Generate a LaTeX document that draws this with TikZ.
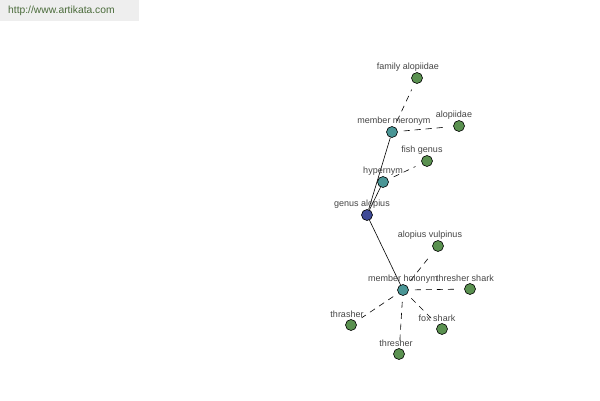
\documentclass[tikz,border=0pt]{standalone}
\usepackage{fontspec}
\setmainfont{Liberation Sans}
\begin{document}
\begin{tikzpicture}[x=1pt,y=-1pt,
  dot/.style={circle,draw=black,line width=0.6pt,minimum size=11pt,inner sep=0pt},
  leaf/.style={dot,fill=leafgreen},
  hub/.style={dot,fill=hubteal},
  root/.style={dot,fill=rootblue},
  lbl/.style={font=\fontsize{9}{10}\selectfont,text=labelgray,inner sep=0pt},
  solidedge/.style={draw=black,line width=0.6pt},
  dashedge/.style={draw=black,line width=0.6pt,dash pattern=on 6pt off 5pt,shorten <=6pt,shorten >=7pt}]
\definecolor{leafgreen}{HTML}{5A9150}
\definecolor{hubteal}{HTML}{4A9696}
\definecolor{rootblue}{HTML}{3F4A96}
\definecolor{labelgray}{HTML}{454545}
\definecolor{bargray}{HTML}{EEEEEE}
\definecolor{urlgreen}{HTML}{4A6B3A}
\useasboundingbox (0,0) rectangle (600,400);
\fill[white] (0,0) rectangle (600,400);
\fill[bargray] (0,0) rectangle (139,21);
\node[anchor=west,font=\fontsize{10.3}{12}\selectfont,text=urlgreen,inner sep=0pt] (url) at (8,11) {http://www.artikata.com};
% nodes
\node[root] (genus) at (367,215) {};
\node[hub] (hyper) at (383,182) {};
\node[hub] (mero) at (392,132) {};
\node[hub] (holo) at (403,290) {};
\node[leaf] (family) at (417,78) {};
\node[leaf] (alopiidae) at (459,126) {};
\node[leaf] (fish) at (427,161) {};
\node[leaf] (vulpinus) at (438,246) {};
\node[leaf] (tshark) at (470,289) {};
\node[leaf] (fox) at (442,329) {};
\node[leaf] (thresher) at (399,354) {};
\node[leaf] (thrasher) at (351,325) {};
% edges
\draw[solidedge] (genus) -- (hyper);
\draw[solidedge] (genus) -- (mero);
\draw[solidedge] (genus) -- (holo);
\draw[dashedge] (mero) -- (family);
\draw[dashedge] (mero) -- (alopiidae);
\draw[dashedge] (hyper) -- (fish);
\draw[dashedge] (holo) -- (vulpinus);
\draw[dashedge] (holo) -- (tshark);
\draw[dashedge] (holo) -- (fox);
\draw[dashedge] (holo) -- (thresher);
\draw[dashedge] (holo) -- (thrasher);
% labels
\node[lbl] (lfamily) at (408,67) {family alopiidae};
\node[lbl] (lmero) at (394,121) {member meronym};
\node[lbl] (lalop) at (454,115) {alopiidae};
\node[lbl] (lfish) at (422,150) {fish genus};
\node[lbl] (lhyper) at (383,171) {hypernym};
\node[lbl] (lgenus) at (362,204) {genus alopius};
\node[lbl] (lvulp) at (430,235) {alopius vulpinus};
\node[lbl] (lholo) at (403,279) {member holonym};
\node[lbl] (ltshark) at (465,278) {thresher shark};
\node[lbl] (lthrasher) at (347,314) {thrasher};
\node[lbl] (lfox) at (437,318) {fox shark};
\node[lbl] (lthresher) at (396,343) {thresher};
\end{tikzpicture}
\end{document}
